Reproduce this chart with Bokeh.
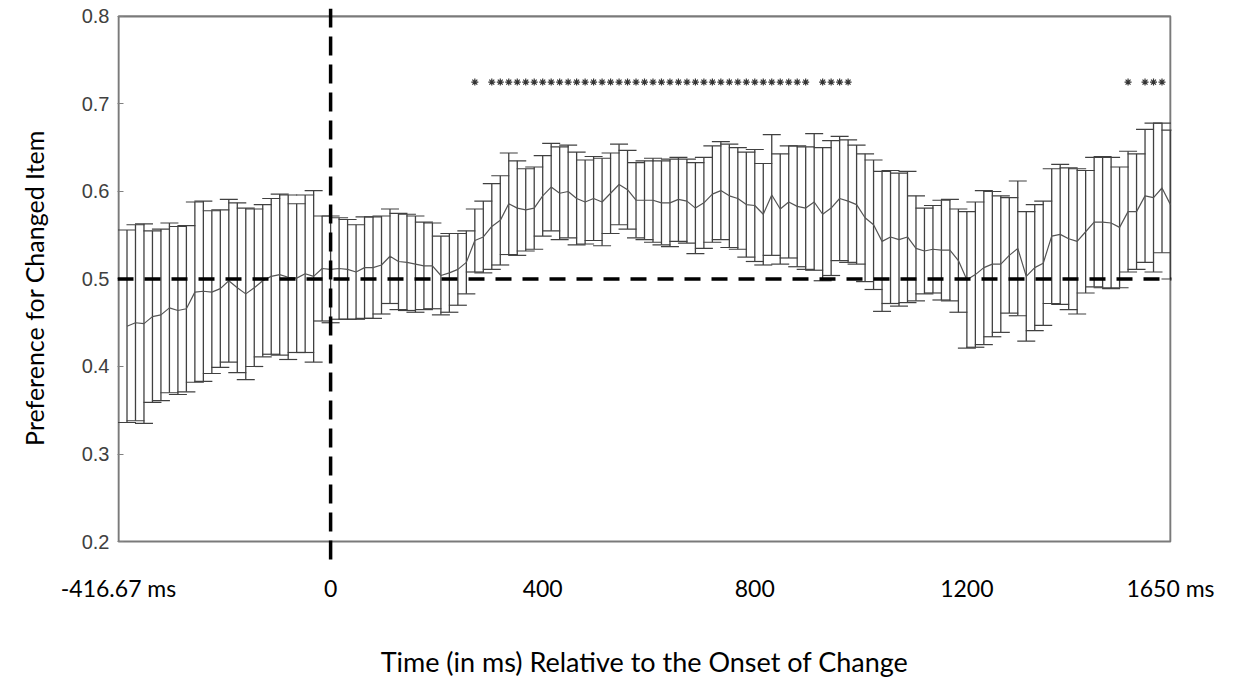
from bokeh.plotting import figure
from bokeh.models import (ColumnDataSource, Whisker, TeeHead, Span,
                          FixedTicker, Range1d, BoxAnnotation)
from bokeh.embed import file_html
from bokeh.resources import INLINE

# ---------------- data ----------------
SAMPLE_MS = 1000.0 / 60.0          # 60 Hz eye-tracker samples
ONSET_INDEX = 25                   # sample index of the change onset
sample_index = list(range(1, 125))
times = [(k - ONSET_INDEX) * SAMPLE_MS for k in sample_index]

mean_pref = [
    0.446, 0.450, 0.449, 0.457, 0.459, 0.467, 0.464, 0.466, 0.485, 0.486,
    0.485, 0.489, 0.498, 0.490, 0.483, 0.490, 0.498, 0.503, 0.505, 0.502,
    0.501, 0.506, 0.503, 0.512, 0.511, 0.512, 0.511, 0.508, 0.513, 0.513,
    0.516, 0.526, 0.520, 0.519, 0.517, 0.515, 0.515, 0.504, 0.507, 0.511,
    0.519, 0.544, 0.548, 0.560, 0.567, 0.586, 0.581, 0.579, 0.581, 0.595,
    0.605, 0.598, 0.600, 0.592, 0.588, 0.592, 0.588, 0.598, 0.608, 0.602,
    0.590, 0.590, 0.590, 0.587, 0.587, 0.591, 0.589, 0.581, 0.587, 0.597,
    0.601, 0.595, 0.592, 0.585, 0.584, 0.574, 0.596, 0.580, 0.588, 0.583,
    0.581, 0.588, 0.574, 0.581, 0.592, 0.589, 0.585, 0.570, 0.562, 0.543,
    0.548, 0.545, 0.548, 0.535, 0.532, 0.534, 0.533, 0.533, 0.521, 0.499,
    0.505, 0.513, 0.517, 0.517, 0.527, 0.535, 0.503, 0.513, 0.518, 0.549,
    0.551, 0.546, 0.543, 0.554, 0.565, 0.565, 0.564, 0.559, 0.577, 0.577,
    0.595, 0.593, 0.604, 0.585,
]
err_pref = [
    0.110, 0.112, 0.114, 0.098, 0.098, 0.097, 0.096, 0.095, 0.103, 0.103,
    0.093, 0.090, 0.093, 0.097, 0.098, 0.090, 0.087, 0.089, 0.092, 0.094,
    0.085, 0.090, 0.098, 0.060, 0.061, 0.058, 0.057, 0.054, 0.058, 0.058,
    0.056, 0.054, 0.055, 0.055, 0.055, 0.050, 0.049, 0.045, 0.045, 0.041,
    0.036, 0.036, 0.041, 0.049, 0.051, 0.058, 0.054, 0.047, 0.047, 0.046,
    0.050, 0.053, 0.053, 0.053, 0.048, 0.048, 0.050, 0.046, 0.046, 0.045,
    0.043, 0.045, 0.048, 0.048, 0.050, 0.048, 0.048, 0.052, 0.052, 0.055,
    0.056, 0.059, 0.058, 0.060, 0.064, 0.058, 0.069, 0.063, 0.064, 0.069,
    0.070, 0.078, 0.076, 0.077, 0.071, 0.070, 0.068, 0.073, 0.074, 0.080,
    0.076, 0.076, 0.075, 0.060, 0.049, 0.050, 0.057, 0.058, 0.059, 0.078,
    0.083, 0.088, 0.083, 0.078, 0.066, 0.077, 0.074, 0.072, 0.071, 0.077,
    0.080, 0.081, 0.083, 0.070, 0.074, 0.075, 0.075, 0.069, 0.069, 0.066,
    0.076, 0.085, 0.074, 0.085,
]
# sample indices marked as significant (asterisks)
sig_index = [42] + list(range(44, 82)) + [83, 84, 85, 86] + [119, 121, 122, 123]

x_tick_vals = [-416.67, 0, 416.67, 833.33, 1250, 1650]
x_tick_labels = ["-416.67 ms", "0", "400", "800", "1200", "1650 ms"]
y_tick_vals = [0.2, 0.3, 0.4, 0.5, 0.6, 0.7, 0.8]

CHANCE = 0.5
ONSET_MS = 0.0
SIG_LEVEL = 0.725
X_MIN, X_MAX = -416.67, 1650.0
Y_MIN, Y_MAX = 0.2, 0.8
# the drawing area reaches a little past the axes box so that the
# onset line can run above and below it, as in the original figure
PAD_X = 2.0
PAD_TOP = 0.0091
PAD_BOTTOM = 0.0297

# ---------------- figure ----------------
p = figure(width=1233, height=690, output_backend="svg", toolbar_location=None,
           x_range=Range1d(X_MIN - PAD_X, X_MAX + PAD_X),
           y_range=Range1d(Y_MIN - PAD_BOTTOM, Y_MAX + PAD_TOP),
           min_border_left=117, min_border_right=62, min_border_top=8,
           min_border_bottom=123)
p.background_fill_color = "white"
p.border_fill_color = "white"
p.xgrid.visible = False
p.ygrid.visible = False
p.outline_line_color = None

# axes box
p.add_layout(BoxAnnotation(left=X_MIN, right=X_MAX, bottom=Y_MIN, top=Y_MAX,
                           fill_alpha=0, line_color="#7a7a7a", line_alpha=1.0,
                           line_width=2.2, level="underlay"))

src = ColumnDataSource(dict(
    t=times, m=mean_pref,
    lo=[m - e for m, e in zip(mean_pref, err_pref)],
    hi=[m + e for m, e in zip(mean_pref, err_pref)],
))

# error bars
wh = Whisker(base="t", upper="hi", lower="lo", source=src,
             line_color="#404040", line_width=1.3,
             upper_head=TeeHead(size=18, line_color="#404040", line_width=1.2),
             lower_head=TeeHead(size=18, line_color="#404040", line_width=1.2))
p.add_layout(wh)

# mean line
p.line("t", "m", source=src, line_color="#555555", line_width=1.2)

# reference lines
p.add_layout(Span(location=CHANCE, dimension="width", line_color="black",
                  line_width=3.5, line_dash="16 11"))
p.add_layout(Span(location=ONSET_MS, dimension="height", line_color="black",
                  line_width=3.5, line_dash="19 9"))

# significance asterisks
sig_t = [times[sample_index.index(k)] for k in sig_index]
p.scatter(x=sig_t, y=[SIG_LEVEL] * len(sig_t), marker="asterisk", size=7,
          line_color="#333333", line_width=1.2)

# ---------------- axes ----------------
xa = p.xaxis[0]
xa.ticker = FixedTicker(ticks=x_tick_vals)
xa.major_label_overrides = dict(zip(x_tick_vals, x_tick_labels))
xa.major_tick_line_color = None
xa.minor_tick_line_color = None
xa.axis_line_color = None
xa.major_label_standoff = 0
xa.major_label_text_font = "Lato"
xa.major_label_text_font_size = "23px"
xa.major_label_text_color = "black"
xa.axis_label = "Time (in ms) Relative to the Onset of Change"
xa.axis_label_text_font = "Lato"
xa.axis_label_text_font_size = "27px"
xa.axis_label_text_font_style = "normal"
xa.axis_label_text_color = "black"
xa.axis_label_standoff = 40

ya = p.yaxis[0]
ya.ticker = FixedTicker(ticks=y_tick_vals)
ya.bounds = (Y_MIN, Y_MAX)
ya.major_tick_in = 6
ya.major_tick_out = 0
ya.major_tick_line_color = "#808080"
ya.minor_tick_line_color = None
ya.axis_line_color = None
ya.major_label_standoff = 8
ya.major_label_text_font = "Liberation Sans"
ya.major_label_text_font_size = "20px"
ya.major_label_text_color = "#404040"
ya.axis_label = "Preference for Changed Item"
ya.axis_label_text_font = "Lato"
ya.axis_label_text_font_size = "25px"
ya.axis_label_text_font_style = "normal"
ya.axis_label_text_color = "black"
ya.axis_label_standoff = 30

out = file_html(p, INLINE)
open("out.html", "w").write(out)
